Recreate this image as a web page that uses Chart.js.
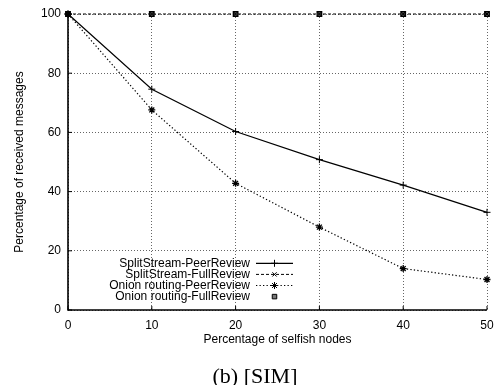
<!DOCTYPE html>
<html><head><meta charset="utf-8">
<script src="https://cdn.jsdelivr.net/npm/chart.js@4/dist/chart.umd.min.js"></script>
<style>html,body{margin:0;padding:0;background:#fff}canvas{display:block}</style>
</head><body>
<canvas id="c" width="496" height="385"></canvas>
<script>
const xValues = [0, 10, 20, 30, 40, 50];
const splitPeer = [100, 74.6, 60.3, 50.8, 42.2, 33.0];
const splitFull = [100, 100, 100, 100, 100, 100];
const onionPeer = [100, 67.6, 42.8, 28.0, 14.0, 10.3];
const onionFull = [100, 100, 100, 100, 100, 100];
const seriesNames = ['SplitStream-PeerReview','SplitStream-FullReview','Onion routing-PeerReview','Onion routing-FullReview'];
const xTitle = 'Percentage of selfish nodes';
const yTitle = 'Percentage of received messages';
const caption = '(b) [SIM]';

const pts = a => a.map((v,i)=>({x:xValues[i], y:v}));
const FONT = 'Liberation Sans, Arial, sans-serif';

const datasets = [
  {label:seriesNames[0], data:pts(splitPeer), borderColor:'#000', borderWidth:1.2, pointStyle:'cross', pointRadius:3.5, pointBorderWidth:1, showLine:true},
  {label:seriesNames[1], data:pts(splitFull), borderColor:'#000', borderWidth:1, borderDash:[3,2], pointStyle:'crossRot', pointRadius:3, pointBorderWidth:1, showLine:true},
  {label:seriesNames[2], data:pts(onionPeer), borderColor:'#000', borderWidth:1.2, borderDash:[1.3,2.2], pointStyle:'star', pointRadius:3.5, pointBorderWidth:1.3, showLine:true},
  {label:seriesNames[3], data:pts(onionFull), borderColor:'#000', backgroundColor:'#777', borderWidth:1, pointStyle:'rect', pointRadius:3.2, pointBorderWidth:1.3, showLine:false}
].map(d=>Object.assign({clip:false, fill:false, tension:0, pointBackgroundColor:d.backgroundColor||'#000', pointHoverRadius:d.pointRadius}, d));

const frame = {
  id:'frame',
  afterDraw(chart){
    const {ctx, chartArea:a, scales} = chart;
    ctx.save();
    ctx.strokeStyle='#000'; ctx.setLineDash([]);
    ctx.lineWidth=1.6;
    ctx.beginPath(); ctx.moveTo(a.left, a.top); ctx.lineTo(a.left, a.bottom); ctx.lineTo(a.right, a.bottom); ctx.stroke();
    ctx.lineWidth=1;
    scales.x.ticks.forEach(t=>{const px=scales.x.getPixelForValue(t.value);
      ctx.beginPath();ctx.moveTo(px,a.bottom);ctx.lineTo(px,a.bottom-4);ctx.stroke();});
    scales.y.ticks.forEach(t=>{const py=scales.y.getPixelForValue(t.value);
      ctx.beginPath();ctx.moveTo(a.left,py);ctx.lineTo(a.left+4,py);ctx.stroke();});
    // legend
    ctx.font = '12px '+FONT; ctx.fillStyle='#000'; ctx.textAlign='right'; ctx.textBaseline='middle';
    const textRight = 250, x0 = 256, x1 = 293, y0 = 263.3, dy = 11.1;
    chart.data.datasets.forEach((d,i)=>{
      const y = y0 + i*dy;
      ctx.fillStyle='#000';
      ctx.fillText(d.label, textRight, y);
      const cx = (x0+x1)/2;
      if (d.showLine){
        ctx.save(); ctx.strokeStyle='#000'; ctx.lineWidth=d.borderWidth; ctx.setLineDash(d.borderDash||[]);
        ctx.beginPath(); ctx.moveTo(x0,y); ctx.lineTo(x1,y); ctx.stroke(); ctx.restore();
      }
      ctx.save(); ctx.strokeStyle='#000'; ctx.fillStyle=d.pointBackgroundColor;
      Chart.helpers.drawPoint(ctx, {pointStyle:d.pointStyle, radius:d.pointRadius, borderWidth:d.pointBorderWidth, rotation:0}, cx, y);
      ctx.restore();
    });
    // caption
    ctx.font = '22px Liberation Serif, Times New Roman, serif';
    ctx.textAlign='center'; ctx.textBaseline='alphabetic'; ctx.fillStyle='#000';
    ctx.fillText(caption, 255, 383);
    ctx.restore();
  }
};

new Chart(document.getElementById('c'), {
  type:'scatter',
  data:{datasets},
  options:{
    responsive:false, animation:false, devicePixelRatio:1,
    layout:{padding:{left:0,right:9,top:14,bottom:0}},
    plugins:{ legend:{display:false}, tooltip:{enabled:false}, title:{display:false} },
    scales:{
      x:{type:'linear', min:0, max:50,
        ticks:{stepSize:10, color:'#000', font:{family:FONT,size:12}, padding:8, maxRotation:0},
        grid:{color:'#666', lineWidth:1, drawTicks:false},
        border:{display:false, dash:[1,2]},
        title:{display:true, text:xTitle, color:'#000', font:{family:FONT,size:12}, padding:{top:0,bottom:38}},
        afterFit(s){s.height=75; s.paddingLeft=0; s.paddingRight=0;}
      },
      y:{min:0, max:100,
        ticks:{stepSize:20, color:'#000', font:{family:FONT,size:12}, padding:7},
        grid:{color:'#666', lineWidth:1, drawTicks:false},
        border:{display:false, dash:[1,2]},
        title:{display:true, text:yTitle, color:'#000', font:{family:FONT,size:12}, padding:{top:12,bottom:0}},
        afterFit(s){s.width=68; s.paddingTop=0; s.paddingBottom=0;}
      }
    }
  },
  plugins:[frame]
});
</script>
</body></html>
